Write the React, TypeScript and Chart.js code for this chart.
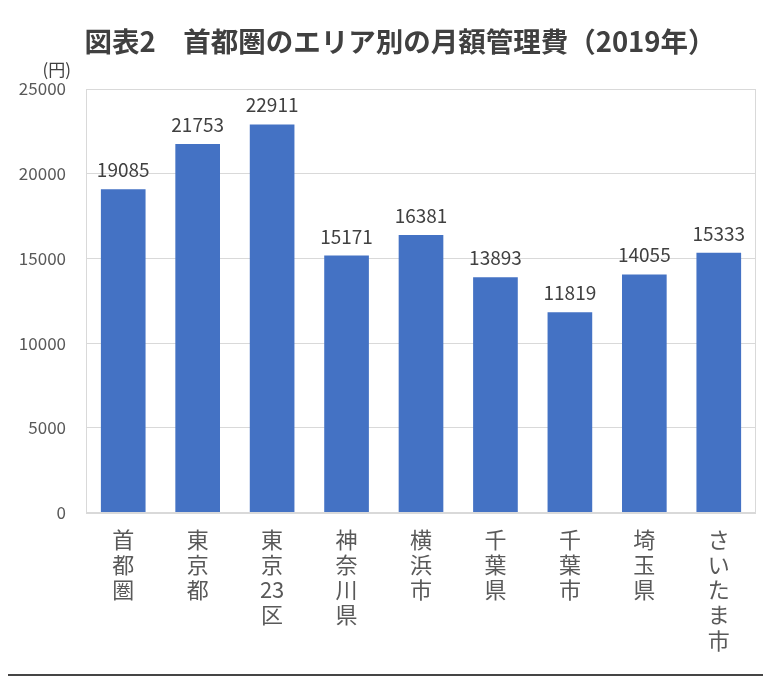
import React, { useEffect, useRef } from "react";
import { Chart, registerables } from "chart.js";

Chart.register(...registerables);

// Monthly management fee by area in the Tokyo metropolitan region (2019)
const categories = [
  "首都圏",
  "東京都",
  "東京23区",
  "神奈川県",
  "横浜市",
  "千葉県",
  "千葉市",
  "埼玉県",
  "さいたま市",
];
const fees = [19085, 21753, 22911, 15171, 16381, 13893, 11819, 14055, 15333];
const yTicks = [0, 5000, 10000, 15000, 20000, 25000];

const TITLE = "図表2　首都圏のエリア別の月額管理費（2019年）";
const UNIT = "(円)";
const FONT = "'Noto Sans CJK JP', 'Noto Sans', sans-serif";

const W = 771;
const H = 684;
const FRAME = "#454545";

// Vertical (one character per line) category labels, keeping digit runs together
const stackChars = (s: string) => s.match(/\d+|./g) || [s];

// Dark frame around the white card, plus the heading
const cardFrame = {
  id: "cardFrame",
  beforeDraw(chart: any) {
    const { ctx, width, height } = chart;
    ctx.save();
    ctx.fillStyle = FRAME;
    ctx.fillRect(0, 0, width, height);
    ctx.fillStyle = "#ffffff";
    ctx.fillRect(7, 4, width - 12, height - 14);
    ctx.font = `bold 27.5px ${FONT}`;
    ctx.fillStyle = "#404040";
    ctx.textAlign = "center";
    ctx.textBaseline = "middle";
    ctx.fillText(TITLE, 400, 42);
    ctx.restore();
  },
};

const valueLabels = {
  id: "valueLabels",
  afterDatasetsDraw(chart: any) {
    const { ctx } = chart;
    const meta = chart.getDatasetMeta(0);
    ctx.save();
    ctx.font = `19px ${FONT}`;
    ctx.fillStyle = "#404040";
    ctx.textAlign = "center";
    ctx.textBaseline = "alphabetic";
    meta.data.forEach((bar: any, i: number) => {
      ctx.fillText(String(fees[i]), bar.x, bar.y - 12);
    });
    ctx.restore();
  },
};

const plotFrame = {
  id: "plotFrame",
  beforeDatasetsDraw(chart: any) {
    const { ctx, chartArea } = chart;
    ctx.save();
    ctx.strokeStyle = "#d9d9d9";
    ctx.lineWidth = 1;
    ctx.strokeRect(
      Math.round(chartArea.left) + 0.5,
      Math.round(chartArea.top) + 0.5,
      Math.round(chartArea.right - chartArea.left) - 1,
      Math.round(chartArea.bottom - chartArea.top)
    );
    ctx.restore();
  },
  afterDraw(chart: any) {
    const { ctx, chartArea } = chart;
    ctx.save();
    ctx.font = `17px ${FONT}`;
    ctx.fillStyle = "#404040";
    ctx.textAlign = "right";
    ctx.textBaseline = "middle";
    ctx.fillText(UNIT, chartArea.left - 15, chartArea.top - 19);
    ctx.restore();
  },
};

function FeeChart() {
  const canvasRef = useRef<HTMLCanvasElement | null>(null);

  useEffect(() => {
    const canvas = canvasRef.current;
    if (!canvas) return;
    const chart = new Chart(canvas, {
      type: "bar",
      data: {
        labels: categories,
        datasets: [
          {
            data: fees,
            backgroundColor: "#4472c4",
            borderWidth: 0,
            barPercentage: 0.6,
            categoryPercentage: 1,
          },
        ],
      },
      options: {
        responsive: false,
        animation: false,
        layout: { padding: { left: 19, right: 15, top: 89, bottom: 17 } },
        plugins: {
          legend: { display: false },
          tooltip: { enabled: false },
          title: { display: false },
        },
        scales: {
          x: {
            grid: { display: false, drawTicks: false },
            border: { display: false },
            ticks: {
              autoSkip: false,
              maxRotation: 0,
              minRotation: 0,
              padding: 14,
              color: "#595959",
              font: { family: FONT, size: 22, lineHeight: 1.15 },
              callback: (_v: any, i: number) => stackChars(categories[i]),
            },
          },
          y: {
            min: 0,
            max: 25000,
            afterBuildTicks: (scale: any) => {
              scale.ticks = yTicks.map((v) => ({ value: v }));
            },
            afterFit: (scale: any) => {
              scale.width = 67;
            },
            grid: { color: "#d9d9d9", drawTicks: false },
            border: { display: false },
            ticks: {
              padding: 20,
              color: "#595959",
              font: { family: FONT, size: 17 },
              callback: (v: any) => String(v),
            },
          },
        },
      },
      plugins: [cardFrame, valueLabels, plotFrame],
    });
    return () => chart.destroy();
  }, []);

  return <canvas ref={canvasRef} width={W} height={H} style={{ display: "block" }} />;
}

export default function App() {
  return (
    <div style={{ margin: -8, width: W, height: H, overflow: "hidden", background: FRAME }}>
      <FeeChart />
    </div>
  );
}
